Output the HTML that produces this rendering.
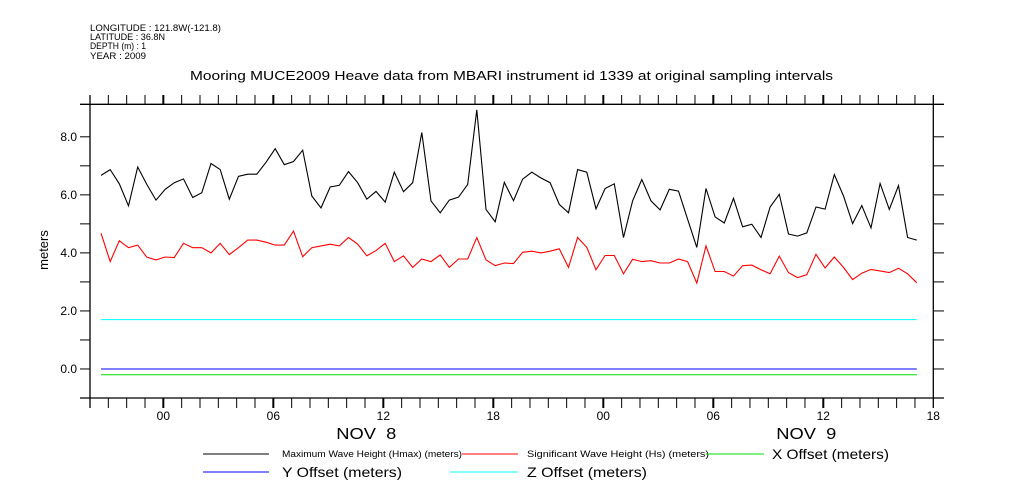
<!DOCTYPE html>
<html><head><meta charset="utf-8"><style>
body{margin:0;background:#fff;}
svg{display:block;font-family:"Liberation Sans",sans-serif;}
</style></head><body>
<svg id="chart" width="1009" height="504" viewBox="0 0 1009 504" xmlns="http://www.w3.org/2000/svg">
<g font-size="9" fill="#000">
<text x="90" y="31" textLength="131" lengthAdjust="spacingAndGlyphs">LONGITUDE : 121.8W(-121.8)</text>
<text x="90" y="40" textLength="75" lengthAdjust="spacingAndGlyphs">LATITUDE : 36.8N</text>
<text x="90" y="49" textLength="56" lengthAdjust="spacingAndGlyphs">DEPTH (m) : 1</text>
<text x="90" y="59" textLength="56" lengthAdjust="spacingAndGlyphs">YEAR : 2009</text>
</g>
<text x="190" y="80" font-size="13" textLength="643" lengthAdjust="spacingAndGlyphs">Mooring MUCE2009 Heave data from MBARI instrument id 1339 at original sampling intervals</text>
<text transform="translate(48,250) rotate(-90)" font-size="13" text-anchor="middle">meters</text>
<g id="axes"></g>
<g id="series"></g>
<g>
<line x1="203" y1="454" x2="269" y2="454" stroke="#000"/>
<text x="282" y="457" font-size="9" textLength="180" lengthAdjust="spacingAndGlyphs">Maximum Wave Height (Hmax) (meters)</text>
<line x1="462" y1="454" x2="518" y2="454" stroke="#f00"/>
<text x="527" y="457" font-size="9" textLength="182" lengthAdjust="spacingAndGlyphs">Significant Wave Height (Hs) (meters)</text>
<line x1="706" y1="454" x2="764" y2="454" stroke="#0d0"/>
<text x="772" y="459" font-size="14" textLength="117" lengthAdjust="spacingAndGlyphs">X Offset (meters)</text>
<line x1="203" y1="472" x2="269" y2="472" stroke="#00f"/>
<text x="282" y="477" font-size="14" textLength="120" lengthAdjust="spacingAndGlyphs">Y Offset (meters)</text>
<line x1="450" y1="472" x2="518" y2="472" stroke="#0ff"/>
<text x="527" y="477" font-size="14" textLength="120" lengthAdjust="spacingAndGlyphs">Z Offset (meters)</text>
</g>
</svg>
<script>
const hmax=[6.67,6.87,6.38,5.62,6.96,6.36,5.82,6.19,6.42,6.55,5.91,6.07,7.08,6.87,5.85,6.64,6.71,6.71,7.12,7.59,7.04,7.15,7.54,5.96,5.55,6.27,6.33,6.80,6.42,5.85,6.12,5.75,
6.78,6.11,6.42,8.15,5.79,5.38,5.82,5.92,6.36,8.93,5.50,5.07,6.43,5.80,6.54,6.78,6.58,6.42,5.67,5.38,6.87,6.78,5.52,6.22,6.38,4.53,5.79,6.53,5.79,5.48,
6.19,6.13,5.16,4.19,6.22,5.24,5.03,5.88,4.90,4.99,4.53,5.58,6.02,4.65,4.58,4.69,5.58,5.51,6.70,5.96,5.01,5.63,4.86,6.39,5.50,6.32,4.53,4.44];
const hs=[4.68,3.70,4.42,4.18,4.27,3.85,3.76,3.86,3.84,4.33,4.18,4.18,4.00,4.33,3.94,4.18,4.44,4.44,4.37,4.27,4.27,4.75,3.87,4.18,4.24,4.30,4.24,4.53,4.30,3.90,4.08,4.33,
3.70,3.90,3.50,3.79,3.70,3.93,3.50,3.79,3.79,4.53,3.76,3.56,3.65,3.63,4.02,4.06,4.00,4.06,4.14,3.50,4.53,4.19,3.42,3.91,3.91,3.28,3.78,3.70,3.73,3.65,
3.65,3.79,3.70,2.96,4.24,3.36,3.36,3.20,3.56,3.58,3.42,3.28,3.89,3.32,3.15,3.25,3.95,3.48,3.86,3.50,3.08,3.30,3.43,3.38,3.32,3.47,3.28,2.97];
const xOffset=-0.2, yOffset=0.0, zOffset=1.7;
const yTicks=[0,2,4,6,8];
const yTickLabels=["0.0","2.0","4.0","6.0","8.0"];
const xTickLabels=["00","06","12","18","00","06","12","18"];
const dayLabels=["NOV  8","NOV  9"];
const t0=0.6, dt=0.5; // hours after 20:00 Nov 7
const NS="http://www.w3.org/2000/svg";
const X0=90,X1=933.3,Y0=398,Y1=104.3,TMAX=46,VMIN=-1,VMAX=9.12;
function sx(h){return X0+(X1-X0)*h/TMAX;}
function sy(v){return Y0-(Y0-Y1)*(v-VMIN)/(VMAX-VMIN);}
function mk(tag,attrs,parent){const e=document.createElementNS(NS,tag);for(const k in attrs)e.setAttribute(k,attrs[k]);parent.appendChild(e);return e;}
const ax=document.getElementById('axes');
let e;
e=mk('line',{x1:80,y1:Y1,x2:944,y2:Y1,stroke:'#000','stroke-width':1.3},ax);


e=mk('line',{x1:80,y1:Y0,x2:944,y2:Y0,stroke:'#000','stroke-width':1.3},ax);


e=mk('line',{x1:X0,y1:95,x2:X0,y2:408,stroke:'#000','stroke-width':1.3},ax);


e=mk('line',{x1:X1,y1:95,x2:X1,y2:408,stroke:'#000','stroke-width':1.3},ax);


for(let h=1;h<TMAX;h++){
  const x=sx(h), major=((h-4)%6===0);
  e=mk('line',{x1:x,y1:Y1,x2:x,y2:95,stroke:'#000','stroke-width':major?2:1},ax);
  
  
  e=mk('line',{x1:x,y1:Y0,x2:x,y2:408,stroke:'#000','stroke-width':major?2:1},ax);
  
  
}
xTickLabels.forEach((l,i)=>{
  e=mk('text',{x:sx(4+6*i),y:420,'font-size':12,'text-anchor':'middle'},ax);e.textContent=l;
  
  
});
dayLabels.forEach((l,i)=>{
  e=mk('text',{x:sx(16+24*i)-47,y:439,'font-size':16,textLength:60,lengthAdjust:'spacingAndGlyphs'},ax);e.textContent=l;
  e.style.whiteSpace='pre';
  
  
});
for(let v=0;v<=8;v++){
  const y=sy(v);
  e=mk('line',{x1:80,y1:y,x2:X0,y2:y,stroke:'#000'},ax);
  
  
  e=mk('line',{x1:X1,y1:y,x2:944,y2:y,stroke:'#000'},ax);
  
  
}
yTicks.forEach((v,i)=>{
  e=mk('text',{x:77,y:sy(v)+4,'font-size':12,'text-anchor':'end'},ax);e.textContent=yTickLabels[i];
  
  
});
const sg=document.getElementById('series');
function hline(v,color,name){
  const l=mk('line',{x1:sx(t0),y1:sy(v),x2:sx(t0+dt*(hmax.length-1)),y2:sy(v),stroke:color,'stroke-width':1},sg);
  
  
}
hline(zOffset,'#0ff','z-offset-line');
hline(xOffset,'#0d0','x-offset-line');
hline(yOffset,'#00f','y-offset-line');
function poly(arr,color,name){
  const pts=arr.map((v,i)=>sx(t0+dt*i).toFixed(1)+','+sy(v).toFixed(1)).join(' ');
  const p=mk('polyline',{points:pts,fill:'none',stroke:color,'stroke-width':1.1},sg);
  
  
}
poly(hs,'#f00','hs-line');
poly(hmax,'#000','hmax-line');
</script>
</body></html>
